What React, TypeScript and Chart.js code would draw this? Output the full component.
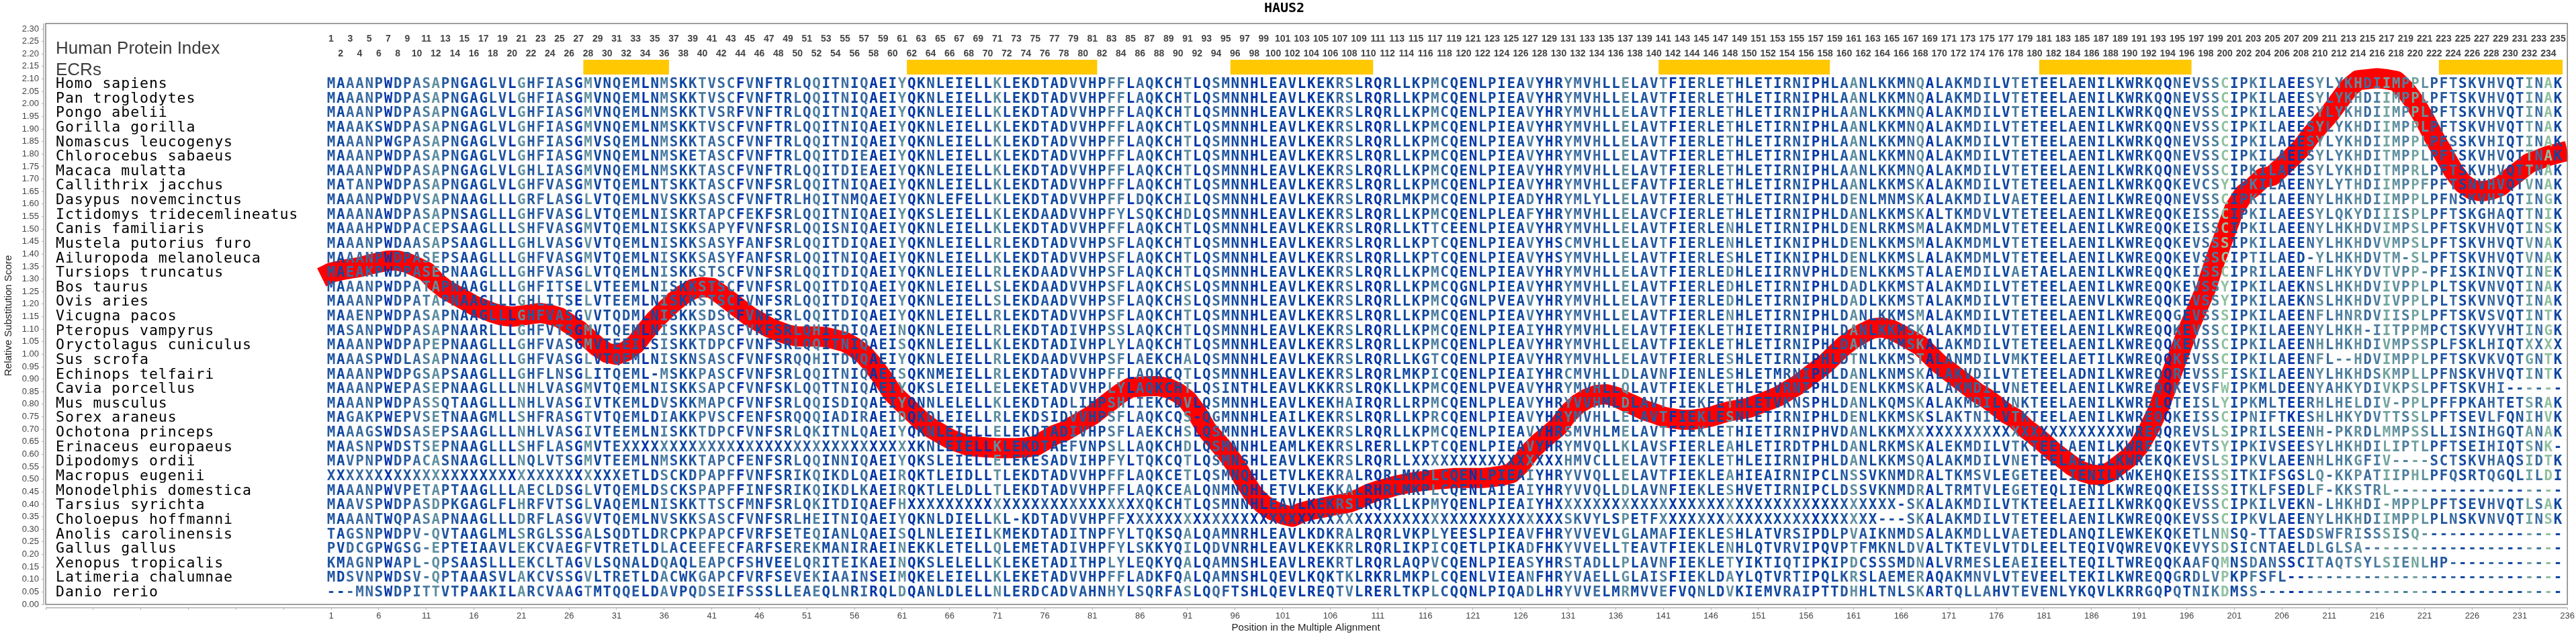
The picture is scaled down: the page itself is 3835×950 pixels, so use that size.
import React, { useEffect, useRef } from "react";
import { Chart, registerables } from "chart.js";

Chart.register(...registerables);

const chartTitle = "HAUS2";
const yAxisTitle = "Relative Substitution Score";
const xAxisTitle = "Position in the Multiple Alignment";

const species = [
  "Homo sapiens", "Pan troglodytes", "Pongo abelii", "Gorilla gorilla", "Nomascus leucogenys", "Chlorocebus sabaeus",
  "Macaca mulatta", "Callithrix jacchus", "Dasypus novemcinctus", "Ictidomys tridecemlineatus", "Canis familiaris",
  "Mustela putorius furo", "Ailuropoda melanoleuca", "Tursiops truncatus", "Bos taurus", "Ovis aries", "Vicugna pacos",
  "Pteropus vampyrus", "Oryctolagus cuniculus", "Sus scrofa", "Echinops telfairi", "Cavia porcellus", "Mus musculus",
  "Sorex araneus", "Ochotona princeps", "Erinaceus europaeus", "Dipodomys ordii", "Macropus eugenii",
  "Monodelphis domestica", "Tarsius syrichta", "Choloepus hoffmanni", "Anolis carolinensis", "Gallus gallus",
  "Xenopus tropicalis", "Latimeria chalumnae", "Danio rerio",
];

// Alignment, in blocks of columns; one string per species
const cols001 = [
  "MAAANPWDPASAPNGAGLVLGHFIASGMVNQEML", "MAAANPWDPASAPNGAGLVLGHFIASGMVNQEML", "MAAANPWDPASAPNGAGLVLGHFIASGMVNQEML",
  "MAAAKSWDPASAPNGAGLVLGHFIASGMVNQEML", "MAAANPWGPASAPNGAGLVLGHFIASGMVSQEML", "MAAANPWDPASAPNGAGLVLGHFIASGMVNQEML",
  "MAAANPWDPASAPNGAGLVLGHLIASGMVNQEML", "MATANPWDPASAPNGAGLVLGHFVASGMVTQEML", "MAAANPWDPVSAPNAAGLLLGRFLASGLVTQEML",
  "MAAANAWDPASAPNSAGLLLGHFVASGLVTQEML", "MAAAHPWDPACEPSAAGLLLSHFVASGMVTQEML", "MAAANPWDAASAPSAAGLLLGHLVASGVVTQEML",
  "MAAANPWDPASEPSAAGLLLGHFVASGMVTQEML", "MAEAKPWDPASEPNAAGLLLGHFVASGLVTQEML", "MAAANPWDPATAPNAAGLLLGHFITSELVTEEML",
  "MAAANPWDPATAPNAAGLLLGHLITSELVTEEML", "MAAENPWDPASAPNAAGLLLGHFVASGVVTQDML", "MASANPWDPASAPNAARLLLGHFVTSGMVTQEML",
  "MAAANPWDPAPEPNAAGLLLGHFVASGMVTEEIL", "MAAASPWDLASAPNAAGLLLGHFVASGLVTQEML", "MAAANPWDPGSAPSAAGLLLGHFLNSGLITQEML",
  "MAAANPWEPASEPNAAGLLLNHLVASGMVTQEML", "MAAANPWDPASSQTAAGLLLNHLVASGIVTKEML", "MAGAKPWEPVSETNAAGMLLSHFRASGTVTQEML",
  "MAAAGSWDSASEPSAAGLLLNHLVASGIVTEEML", "MAASNPWDSTSEPNAAGLLLSHFLASGMVTEXXX", "MAVPNPWDPACASNAAGLLLNQLVTSGMVTEEML",
  "XXXXXXXXXXXXXXXXXXXXXXXXXXXXXXXETL", "MAAANPWVPETAPTAAGLLLAECLDSGLVTQEML", "MAAVSPWDPASDPKGAGLFLHRFVTSGLVAQEML",
  "MAAANTWQPASAPNAAGLLLDRFLASGVVTQEML", "TAGSNPWDPV-QVTAAGLMLSRGLSSGALSQDTL", "PVDCGPWGSG-EPTEIAAVLEKCVAEGFVTRETL",
  "KMAGNPWAPL-QPSAASLLLEKCLTAGVLSQNAL", "MDSVNPWDSV-QPTAAASVLAKCVSSGVLTRETL", "---MNSWDPITTVTPAAKILARCVAAGTMTQQEL",
];
const cols035 = [
  "NMSKKTVSCFVNFTRLQQITNIQAEIYQKNLEIE", "NMSKKTVSCFVNFTRLQQITNIQAEIYQKNLEIE", "NMSKKTVSRFVNFTRLQQITNIQAEIYQKNLEIE",
  "NMSKKTVSCFVNFTRLQQITNIQAEIYQKNLEIE", "NMSKKTASCFVNFTRLQQITNIQAEIYQKNLEIE", "NMSKETASCFVNFTRLQQITDIEAEIYQKNLEIE",
  "NMSKKTASCFVNFTRLQQITDIEAEIYQKNLEIE", "NTSKKTASCFVNFSRLQQITNIQAEIYQKNLEIE", "NVSKKSASCFVNFTRLHQITNMQAEIYQKNLEFE",
  "NISKRTAPCFEKFSRLQQITNIQAEIYQKSLEIE", "NISKKSAPYFVNFSRLQQISNIQAEIYQKNLEIE", "NISKKSASYFANFSRLQQITDIQAEIYQKNLEIE",
  "NISKKSASYFANFSRLQQITNIQAEIYQKNLEIE", "NISKKSTSCFVNFSRLQQITDIQAEIYQKNLEIE", "NISKKSTSCFVNFSRLQQITDIQAEIYQKNLEIE",
  "NISKKSTSCFVNFSRLQQITDIQAEIYQKNLEIE", "NISKKSDSCFVNFSRLQQITDIQAEIYQKNLEIE", "NISKKPASCFVKFSRLQHITDIQAEINQKNLEIE",
  "SISKKTDPCFVNFSRLQQITNIQAEISQKNLEIE", "NISKNSASCFVNFSRQQHITDVQAEIYQKNLEIE", "-MSKKPASCFVNFSRLQQITNIQAEISQKNMEIE",
  "NISKKSAPCFVNFSKLQQTTNIQAEIYQKSLEIE", "DVSKKMAPCFVNFSRLQQISDIQAEIYQNNLELE", "DIAKKPVSCFENFSRQQQIADIRAEIDQKDLEIE",
  "NISKKTDPCFVNFSRLQKITNLQAEIYQKNLEIE", "XXXXXXXXXXXXXXXXXXXXXXXXXXXXKNLEIE", "NMSKKTAPCFENFSRLQQINNIQAEIYQKSLEIE",
  "DSCKDPAPFFVNFSRIKQIKDLQAEIRQKTLEID", "DSCKSPAPFFINFSRIKQIKDLKAEIRQKTLELD", "NISKKTTSCFMNFSRLQKITDIQAEFHXXXXXXX",
  "NVSKKSASCFVNFSRLHEITNIQAEIYQKNLDIE", "DRCPKPAPCFVRFSETEQIANLQAEISQLNLEIE", "DLACEEFECFARFSEREKMANIRAEINEKKLETE",
  "DQAQLEAPCFSHVEELQRITEIKAEINQKSLELE", "DACWKGAPCFVRFSEVEKIAAINSEIMQKELEIE", "DAVPQDSEIFSSSLLEAEQLNRIRQLDQANLDLE",
];
const cols069 = [
  "LLKLEKDTADVVHPFFLAQKCHTLQSMNNHLEAV", "LLKLEKDTADVVHPFFLAQKCHTLQSMNNHLEAV", "LLKLEKDTADVVHPFFLAQKCHTLQSMNNHLEAV",
  "LLKLEKDTADVVHPFFLAQKCHTLQSMNNHLEAV", "LLKLEKDTADVVHPFFLAQKCHTLQSMNNHLEAV", "LLKLEKDTADVVHPFFLAQKCHTLQSMNNHLEAV",
  "LLKLEKDTADVVHPFFLAQKCHTLQSMNNHLEAV", "LLKLEKDTADVVHPFFLAQKCHTLQSMNNHLEAV", "LLKLEKDTADVVHPFFLDQKCHILQSMNNHLEAV",
  "LLKLEKDAADVVHPFYLSQKCHDLQSMNNHLEAV", "LLKLEKDTADVVHPFFLAQKCHTLQSMNNHLEAV", "LLRLEKDTADVVHPSFLAQKCHTLQSMNNHLEAV",
  "LLKLEKDTADVVHPSFLAQKCHTLQSMNNHLEAV", "LLRLEKDAADVVHPSFLAQKCHTLQSMNNHLEAV", "LLSLEKDAADVVHPSFLAQKCHSLQSMNNHLEAV",
  "LLSLEKDAADVVHPSFLAQKCHSLQSMNNHLEAV", "LLRLEKDTADVVHPSFLAQKCHTLQSMNNHLEAV", "LLRLEKDTADIVHPSSLAQKCHTLQSMNNHLEAV",
  "LLKLEKDTADIVHPLYLAQKCHTLQSMNNHLEAV", "LLRLEKDAADVVHPSFLAEKCHALQSMNNHLEAV", "LLRLEKDTADVVHPFFLAQKCQTLQSMNNHLEAV",
  "LLELEKETADVVHPLYLAQKCHTLQSINTHLEAV", "LLKLEKDTADLIHPSHLIEKCDVLQSMNNHLEAV", "LLRLEKDSIDVVHPSFLAQKCQS-QGMNNHLEAI",
  "LLELEKDTADIVHPSFLAEKCHSLQSMNNHLEAV", "LLKLEKDTAEFVNPSLLAQKCHDLQSMNNHLEAM", "LLELEKESADVIHPFYLTQKCQTLQSMNSHLEAV",
  "LLTLEKDTADVVHPFFLAQKCETLQSMNQHLETV", "LLTLEKDTADVVHPFFLAQKCEALQNMNQHLETV", "XXXXXXXXXXXXXXXXXXQKCHTLQSMNNHLEAV",
  "LLKL-KDTADVVHPFFXXXXXXXXXXXXXXXXXX", "ILKMEKDTADITNPFYLTQKSQALQAMNRHLEAV", "LLQLEMETADIVHPFYLSKKYQILQDVNRHLEAV",
  "LLKLEKETADITHPLYLEQKYQALQAMNSHLEAV", "LLKLEKETADVVHPFFLADKFQALQAMNSHLQEV", "LLNLERDCADVAHNHYLSQRFASLQQFTSHLQEV",
];
const cols103 = [
  "LKEKRSLRQRLLKPMCQENLPIEAVYHRYMVHLL", "LKEKRSLRQRLLKPMCQENLPIEAVYHRYMVHLL", "LKEKRSLRQRLLKPMCQENLPIEAVYHRYMVHLL",
  "LKEKRSLRQRLLKPMCQENLPIEAVYHRYMVHLL", "LKEKRSLRQRLLKPMCQENLPIEAVYHRYMVHLL", "LKEKRSLRQRLLKPMCQENLPIEAVYHRYMVHLL",
  "LKEKRSLRQRLLKPMCQENLPIEAVYHRYMVHLL", "LKEKRSLRQRLLKPMCQENLPIEAVYHRYMVHLL", "LKEKRSLRQRLMKPMCQENLPIEADYHRYMLYLL",
  "LKEKRSLRQRLLKPMCQENLPLEAFYHRYMVHLL", "LKEKRSLRQRLLKTTCEENLPIEAVYHRYMVHLL", "LKEKRSLRQRLLKPTCQENLPIEAVYHSCMVHLL",
  "LKEKRSLRQRLLKPTCQENLPIEAVYHSYMVHLL", "LKEKRSLRQRLLKPMCQENLPIEAVYHRYMVHLL", "LKEKRSLRQRLLKPMCQGNLPIEAVYHRYMVHLL",
  "LKEKRSLRQRLLKPMCQGNLPVEAVYHRYMVHLL", "LKEKRSLRQRLLKPMCQENLPIEAVYHRYMVHLL", "LKEKRSLRQRLLKPMCQENLPIEAIYHRYMVHLL",
  "LKEKRSLRQRLLKPMCQENLPLEAVYHRYMVHLL", "LKEKRSLRQRLLKGTCQENLPIEAVYHRYMVHLL", "LKEKRSLRQRLMKPICQENLPIEAIYHRCMVHLL",
  "LKKKRSLRQKLLKPMCQENLPVEAVYHRYMVHLL", "LKEKHAIRQRLLRPMCQENLPLEAVYHRYVVHML", "LKEKRSLRQRLLKPRCQENLPIEAVYHRYMVHLL",
  "LKEKRSLRQRLLKPMCQENLPIEAVYHRSMVHLM", "LKEKRSLRERLLKPTCQENLPIEAVYHRYMVQLL", "LKEKRSLRQRLLXXXXXXXXXXXXXXXXHMVCLL",
  "LKEKRALRQRLMKPLCQENLPIEAIYHRYVVQLL", "LKEKKALRHRLMKPLCQENLAIEAIYHRYVVQLL", "LKEKRSLRQRLLKPMYQENLPIEAIYHXXXXXXX",
  "XXXXXXXXXXXXXXXXXXXXXXXXXXXXSKVYLS", "LKDKRALRQRLVKPLYEESLPIEAVFHRYVVEVL", "LKEKKRLRQRLIKPICQETLPIKADFHKYVVELL",
  "LREKRTLRQRLAQPVCQENLPIEASYHRSTADLL", "LKQKTKLRKRLMKPLCQENLVIEANFHRYVAELL", "LREQTVLRERLTKPLCQQNLPIQADLHRYVVELM",
];
const cols137 = [
  "ELAVTFIERLETHLETIRNIPHLAANLKKMNQAL", "ELAVTFIERLETHLETIRNIPHLAANLKKMNQAL", "ELAVTFIERLETHLETIRNIPHLAANLKKMNQAL",
  "ELAVTFIERLETHLETIRNIPHLAANLKKMNQAL", "ELAVTFIERLETHLETIRNIPHLAANLKKMNQAL", "ELAVTFIERLETHLETIRNIPHLAANLKKMNQAL",
  "ELAVTFIERLETHLETIRNIPHLAANLKKMNQAL", "EFAVTFIERLETHLETIRNIPHLAANLKKMSKAL", "ELAVTFIERLETHLETIRNIPHLDENLMNMSKAL",
  "ELAVCFIERLETHLETIRNIPHLDANLKKMSKAL", "ELAVTFIERLENHLETIRNIPHLDENLRKMSMAL", "ELAVTFIERLENHLETIKNIPHLDENLKKMSMAL",
  "ELAVTFIERLESHLETIKNIPHLDENLKKMSLAL", "ELAVTFIERLEDHLEIIRNVPHLDENLKKMSTAL", "ELAVTFIERLEDHLETIRNIPHLDADLKKMSTAL",
  "ELAVTFIERLEDHLETIRNIPHLDADLKKMSTAL", "ELAVTFIERLENHLETIRNIPHLDANLKKMSMAL", "ELAVTFIEKLETHIETIRNIPHLDANLKKMSKAL",
  "ELAVTFIEKLETHLETIRNIPHLDANLKKMSKAL", "ELAVTFIERLESHLETIRNIPHLDTNLKKMSTAL", "DLAVNFIENLESHLETMRNIPHLDANLKNMSKAL",
  "QLAVTFIEKLETHLETVRNIPHLDENLKKMSKAL", "DLAVTFIEKFETHLETVKNSPHLDANLKQMSKAL", "ELAVTFIEKLESNLETIRNIPHLDENLKKMSKSL",
  "ELAVTFIEKLETHIETIRNIPHVDANLKKMXXXX", "KLAVSFIERLEAHLETIRDTPHLDANLRKMSKAL", "ELAVTFIEKLETHLEIIRNIPHLDANLKKMSQAL",
  "ELAVTFIEKLEAHIEAIRNIPCLNSSVKNMDRAL", "DLAVNFIEKLESHVETIRNIPCLDSSVKNMDRAL", "XXXXXXXXXXXXXXXXXXXXXXXXXXXXX-SKAL",
  "PETFXXXXXXXXXXXXXXXXXXXXXXX---SKAL", "GLAMAFIEKLESHLATVRSIPDLPVAIKNMDSAL", "TEAVTFIEKLENHLQTVRVIPQVPTFMKNLDVAL",
  "PLAVNFIEKLETYIKTIQTIPKIPDCSSSMDNAL", "GLAISFIEKLDAYLQTVRTIPQLKRSLAEMERAQ", "RMVVEFVQNLDVKIEMVRAIPTTDHHLTNLSKAR",
];
const cols171 = [
  "AKMDILVTETEELAENILKWRKQQNEVSSCIPKI", "AKMDILVTETEELAENILKWRKQQNEVSSCIPKI", "AKMDILVTETEELAENILKWRKQQNEVSSCIPKI",
  "AKMDILVTETEELAENILKWRKQQNEVSSCIPKI", "AKMDILVTETEELAENILKWRKQQNEVSSCIPKI", "AKMDILVTETEELAENILKWRKQQNEVSSCIPKI",
  "AKMDILVTETEELAENILKWRKQQNEVSSCIPKI", "AKMDILVTETEELAENILKWRKQQKEVCSYIPKI", "AKMDILVAETEELAENILKWREQQNEVSSCIPKI",
  "TKMDVLVTETEELAENILKWREQQKEISSCIPKI", "AKMDMLVTETEELAENILKWREQQKEISSCIPKI", "AKMDMLVTETEELAENILKWREQQKEVSSSIPKI",
  "AKMDMLVTETEELAENILKWREQQKEVSSCIPTI", "AEMDILVAETAELAENILKWREQQKEISSCIPRI", "AKMDILVTETEELAENILKWREQQKEVSSYIPKI",
  "AKMDILVTETEELAENVLKWREQQKEVSSYIPKI", "AKMDILVTETEELAENILKWREQQGEVSSSIPKI", "AKMDILVTETEELAENILKWREQQKEVSSCIPKI",
  "AKMDILVTETEELAENILKWREQQKEVSSCIPKI", "ANMDILVMKTEELAETILKWREQQKEVSSCIPKI", "AKVDILVTETEELADNILKWREQQREVSSFISKI",
  "AKMDILVNETEELAENILKWREQQKEVSFWIPKM", "AKMDILVNKTEELAENILKWRELQTEISLYIPKM", "AKTNILVTKTEELAENILKWREQQKEISSCIPNI",
  "XXXXXXXXXXXXXXXXXXXWREQQREVSLSIPRI", "EKMDILVTKTEELAENILKWREEQKEVTSYIPKI", "AKMDILVNETEELAENILKWREKQKEVSLSIPKV",
  "TKMSVLEGETEELIENILKWKEHQKEISSSITKI", "TRMTVLEGETEQLIENILKWREQQKEISSSITKL", "AKMDILVTKTEELAEIILKWRKQQKEVSSCIPKI",
  "AKMDILVTETEELAENILKWREQQKEVSSCIPKV", "AKMDLLVAETEDLANQILEWKEKQKETLNNSQ-T", "TKTEVLVTDLEELTEQIVQWREVQKEVYSDSICN",
  "VRMESLEAEIEELTEQILTWREQQKAAFQMNSDA", "AKMNVLVTEVEELTEKILKWREQQGRDLVPKPFS", "TQLLAHVTEVENLYKQVLKRRGQPQTNIKDMSS-",
];
const cols205 = [
  "LAEESYLYKHDIIMPPLPFTSKVHVQTINAK", "LAEESYLYKHDIIMPPLPFTSKVHVQTINAK", "LAEESYLYKHDIIMPPLPFTSKVHVQTINAK",
  "LAEESYLYKHDIIMPPLPFTSKVHVQTTNAK", "LAEESYLYKHDIIMPPLPFSSKVHIQTINAK", "LAEESYLYKHDITMPPLPFTSKVHVQTTNAK",
  "LAEESYLYKHDITMPRLPFTSKVHVQTTNAK", "LAEENYLYTHDIIMPPFPFTSNVHVQTVNAK", "LAEENYLHKHDIIMPPLPFNSKVHIQTINGK",
  "LAEESYLQKYDIIISPLPFTSKGHAQTTNIK", "LAEENYLHKHDVIMPSLPFTSKVHVQTINSK", "LAEENYLHKHDVVMPSLPFTSKVHVQTVNAK",
  "LAED-YLHKHDVTM-SLPFTSKVHVQTVNAK", "LAEENFLHKYDVTVPP-PFISKINVQTINEK", "LAEKNSLHKHDVIVPPLPLTSKVNVQTINAK",
  "LAEKNSLHKHDVIVPPLPLTSKVNVQTINAK", "LAEENFLHNRDVIISPLPFTSKVSVQTINTK", "LAEENYLHKH-IITPPMPCTSKVYVHTINGK",
  "LAEENHLHKHDIVMPSSPLFSKLHIQTXXXX", "LAEENFL--HDVIMPPLPFTSKVKVQTGNTK", "LAEENYLHKHDSKMPLLPFNSKVHVQTINTK",
  "LDEENYAHKYDIVKPSLPFTSKVHI------", "LTEERHLHELDIV-PPLPFFPKAHTETSRAK", "FTKESHLHKYDVTTSSLPFTSEVLFQNIHVK",
  "LSEENH-PKRDLMMPSSLLISNIHGQTANAK", "VSEESYLHKHDILIPTLPFTSEIHIQTSNK-", "LAEENHLHKGFIV----SCTSKVHAQSIDTK",
  "FSGSLQ-KKPATIIPHLPFQSRTQGQLILDI", "FSEDLF-KKSTRL------------------", "LVEKN-LHKHDI-MPPLPFTSEVHVQTLSAK",
  "LAEENYLHKHDIIMPPLPLNSKVNVQTINSK", "TAESDSWFRISSSISQ---------------", "TAELDLGLSA---------------------",
  "NSSCITAQTSYLSIENLHP------------", "FL-----------------------------", "-------------------------------",
];
const alignmentBlocks = [cols001, cols035, cols069, cols103, cols137, cols171, cols205];
const blockStarts = [1, 35, 69, 103, 137, 171, 205];

// Shade of every alignment column, 0 dark blue to 7 pale green
const shades001 = "2133320223" + "4522111220" + "5232320511" + "2220";
const shades035 = "1421243330" + "3111132412" + "3130115012" + "1111";
const shades069 = "0051111211" + "3211440321" + "1150132110" + "0111";
const shades103 = "0011341001" + "1111421101" + "1111410143" + "2311";
const shades137 = "5122401131" + "1511111222" + "0112521221" + "3501";
const shades171 = "2223311422" + "1112111111" + "1220313347" + "1242";
const shades205 = "3201353445" + "3465465223" + "1223312637" + "1";
const shadeBlocks = [shades001, shades035, shades069, shades103, shades137, shades171, shades205];
const shadePalette = ["#0033a8", "#0f47a1", "#2257a0", "#3a6aa0", "#4c7ea0", "#5f8f9f", "#74a59f", "#90c0a0"];

// Smoothed relative substitution score at alignment positions 0..236
const scoreValues = [
  1.307, 1.326, 1.335, 1.342, 1.348, 1.358, 1.366, 1.374, 1.374, 1.365,
  1.348, 1.33, 1.29, 1.26, 1.238, 1.217, 1.195, 1.18, 1.165, 1.154,
  1.15, 1.154, 1.16, 1.165, 1.158, 1.147, 1.122, 1.097, 1.064, 1.03,
  1.005, 0.998, 1.012, 1.041, 1.09, 1.136, 1.173, 1.209, 1.238, 1.26,
  1.268, 1.265, 1.238, 1.209, 1.18, 1.151, 1.129, 1.107, 1.092, 1.078,
  1.071, 1.071, 1.071, 1.068, 1.059, 1.049, 1.027, 0.998, 0.954, 0.903,
  0.844, 0.807, 0.771, 0.735, 0.706, 0.684, 0.662, 0.647, 0.633, 0.63,
  0.627, 0.625, 0.625, 0.625, 0.627, 0.633, 0.655, 0.677, 0.691, 0.713,
  0.735, 0.757, 0.787, 0.816, 0.845, 0.867, 0.87, 0.872, 0.872, 0.864,
  0.845, 0.816, 0.765, 0.699, 0.655, 0.611, 0.56, 0.494, 0.435, 0.399,
  0.375, 0.36, 0.35, 0.368, 0.378, 0.385, 0.393, 0.4, 0.407, 0.422,
  0.441, 0.455, 0.465, 0.476, 0.483, 0.49, 0.494, 0.499, 0.502, 0.505,
  0.505, 0.505, 0.505, 0.509, 0.514, 0.524, 0.56, 0.611, 0.648, 0.68,
  0.713, 0.764, 0.8, 0.823, 0.837, 0.84, 0.83, 0.811, 0.794, 0.776,
  0.764, 0.75, 0.743, 0.738, 0.738, 0.743, 0.75, 0.762, 0.772, 0.779,
  0.786, 0.8, 0.815, 0.83, 0.852, 0.874, 0.903, 0.932, 0.961, 0.998,
  1.034, 1.063, 1.085, 1.103, 1.107, 1.097, 1.078, 1.056, 1.034, 0.998,
  0.961, 0.932, 0.903, 0.874, 0.845, 0.823, 0.794, 0.764, 0.743, 0.706,
  0.677, 0.645, 0.611, 0.582, 0.553, 0.531, 0.519, 0.516, 0.531, 0.56,
  0.589, 0.633, 0.699, 0.779, 0.881, 0.983, 1.085, 1.173, 1.26, 1.377,
  1.479, 1.581, 1.64, 1.669, 1.705, 1.713, 1.749, 1.785, 1.822, 1.873,
  1.917, 1.96, 2.012, 2.063, 2.095, 2.099, 2.103, 2.099, 2.092, 2.055,
  2.004, 1.939, 1.866, 1.8, 1.734, 1.683, 1.657, 1.651, 1.657, 1.672,
  1.705, 1.734, 1.764, 1.778, 1.793, 1.803, 1.812,
];

const ecrRanges = [[28, 36], [62, 81], [96, 110], [141, 158], [181, 196], [223, 235]];
const yTickValues = [
  0, 0.05, 0.1, 0.15, 0.2, 0.25, 0.3, 0.35, 0.4, 0.45, 0.5, 0.55, 0.6, 0.65, 0.7, 0.75, 0.8, 0.85, 0.9, 0.95,
  1, 1.05, 1.1, 1.15, 1.2, 1.25, 1.3, 1.35, 1.4, 1.45, 1.5, 1.55, 1.6, 1.65, 1.7, 1.75, 1.8, 1.85, 1.9, 1.95,
  2, 2.05, 2.1, 2.15, 2.2, 2.25, 2.3,
];
const xTickValues = [
  -29, -24, -19, -14, -9, -4, 1, 6, 11, 16, 21, 26, 31, 36, 41, 46, 51, 56, 61, 66, 71, 76, 81, 86, 91, 96, 101, 106,
  111, 116, 121, 126, 131, 136, 141, 146, 151, 156, 161, 166, 171, 176, 181, 186, 191, 196, 201, 206, 211, 216, 221,
  226, 231, 236,
];
const indexLabels = Array.from({ length: 235 }, (_, i) => i + 1);

const alignmentPlugin = {
  id: "alignment",
  afterDatasetsDraw(chart: any) {
    const { ctx } = chart;
    const xs = chart.scales.x;
    const ys = chart.scales.y;
    const X = (c: number) => xs.getPixelForValue(c);
    const left = X(-29), right = X(236), top = 35, bottom = ys.getPixelForValue(0);
    ctx.save();
    // frame and offset axis lines
    ctx.strokeStyle = "#808080";
    ctx.lineWidth = 1.5;
    ctx.strokeRect(left, top, right - left, bottom - top);
    ctx.strokeStyle = "#b0b0b0";
    ctx.beginPath();
    ctx.moveTo(left - 3, top);
    ctx.lineTo(left - 3, bottom);
    ctx.moveTo(left, bottom + 5);
    ctx.lineTo(right, bottom + 5);
    ctx.stroke();

    // headers
    ctx.textAlign = "left";
    ctx.textBaseline = "alphabetic";
    ctx.fillStyle = "#3c3c3c";
    ctx.font = '26px "Liberation Sans"';
    ctx.fillText("Human Protein Index", 83, 80);
    ctx.fillText("ECRs", 83, 112);

    // ECR bars
    ctx.fillStyle = "#ffc800";
    for (const [a, b] of ecrRanges) {
      ctx.fillRect(X(a - 0.5), 89, X(b + 0.5) - X(a - 0.5), 22);
    }

    // position index
    ctx.fillStyle = "#444444";
    ctx.font = 'bold 14px "Liberation Sans"';
    ctx.textAlign = "center";
    ctx.textBaseline = "middle";
    for (const n of indexLabels) {
      ctx.fillText(String(n), X(n), n % 2 ? 58 : 80);
    }

    // species names
    ctx.textAlign = "left";
    ctx.textBaseline = "alphabetic";
    ctx.fillStyle = "#000000";
    ctx.font = '21.5px "DejaVu Sans Mono"';
    ctx.letterSpacing = "0.95px";
    species.forEach((name, row) => ctx.fillText(name, 83, 131 + row * 21.63));
    ctx.letterSpacing = "0px";

    // residues coloured by column
    ctx.textAlign = "center";
    ctx.font = 'bold 20.8px "DejaVu Sans Mono"';
    alignmentBlocks.forEach((block, b) => {
      block.forEach((seq, row) => {
        for (let i = 0; i < seq.length; i++) {
          ctx.fillStyle = shadePalette[Number(shadeBlocks[b][i])];
          ctx.fillText(seq[i], X(blockStarts[b] + i), 131 + row * 21.63);
        }
      });
    });
    ctx.restore();
  },
};

export default function App() {
  const ref = useRef<HTMLCanvasElement>(null);
  useEffect(() => {
    document.body.style.margin = "0";
    const chart = new Chart(ref.current as HTMLCanvasElement, {
      type: "line",
      data: {
        datasets: [
          {
            label: "Relative Substitution Score",
            data: scoreValues.map((y, x) => ({ x, y })),
            borderColor: "#ff0000",
            backgroundColor: "#ff0000",
            borderWidth: 30,
            pointRadius: 0,
            tension: 0,
            borderJoinStyle: "round",
            borderCapStyle: "butt",
            clip: 0,
          },
        ],
      },
      options: {
        responsive: false,
        animation: false,
        events: [],
        layout: { padding: { left: 0, right: 11, top: 0, bottom: 0 } },
        plugins: {
          legend: { display: false },
          tooltip: { enabled: false },
          title: {
            display: true,
            text: chartTitle,
            color: "#000000",
            font: { family: '"DejaVu Sans Mono"', size: 20, weight: "bold" },
            padding: { top: 1, bottom: 10 },
          },
        },
        scales: {
          x: {
            type: "linear",
            min: -29.212,
            max: 236.07,
            afterBuildTicks: (s: any) => {
              s.ticks = xTickValues.map((value) => ({ value }));
            },
            afterFit: (s: any) => {
              s.height = 45;
            },
            ticks: {
              autoSkip: false,
              maxRotation: 0,
              padding: 2,
              color: "#444444",
              font: { family: '"Liberation Sans"', size: 13 },
              callback: (v: any) => (Number(v) < 1 ? "" : String(v)),
            },
            grid: { drawOnChartArea: false, drawTicks: true, tickLength: 3, color: "#b0b0b0" },
            border: { display: false },
            title: {
              display: true,
              text: xAxisTitle,
              color: "#222222",
              font: { family: '"Liberation Sans"', size: 15 },
              padding: { top: 0, bottom: 6 },
            },
          },
          y: {
            type: "linear",
            min: -0.0134,
            max: 2.3215,
            afterBuildTicks: (s: any) => {
              s.ticks = yTickValues.map((value) => ({ value }));
            },
            afterFit: (s: any) => {
              s.width = 65;
            },
            ticks: {
              autoSkip: false,
              padding: 4,
              color: "#444444",
              font: { family: '"Liberation Sans"', size: 13 },
              callback: (v: any) => Number(v).toFixed(2),
            },
            grid: { drawOnChartArea: false, drawTicks: true, tickLength: 3, color: "#b0b0b0" },
            border: { display: false },
            title: {
              display: true,
              text: yAxisTitle,
              color: "#222222",
              font: { family: '"Liberation Sans"', size: 15 },
              padding: { top: 4, bottom: 0 },
            },
          },
        },
      },
      plugins: [alignmentPlugin],
    } as any);
    return () => chart.destroy();
  }, []);
  return <canvas ref={ref} width={3835} height={950} style={{ display: "block" }} />;
}
